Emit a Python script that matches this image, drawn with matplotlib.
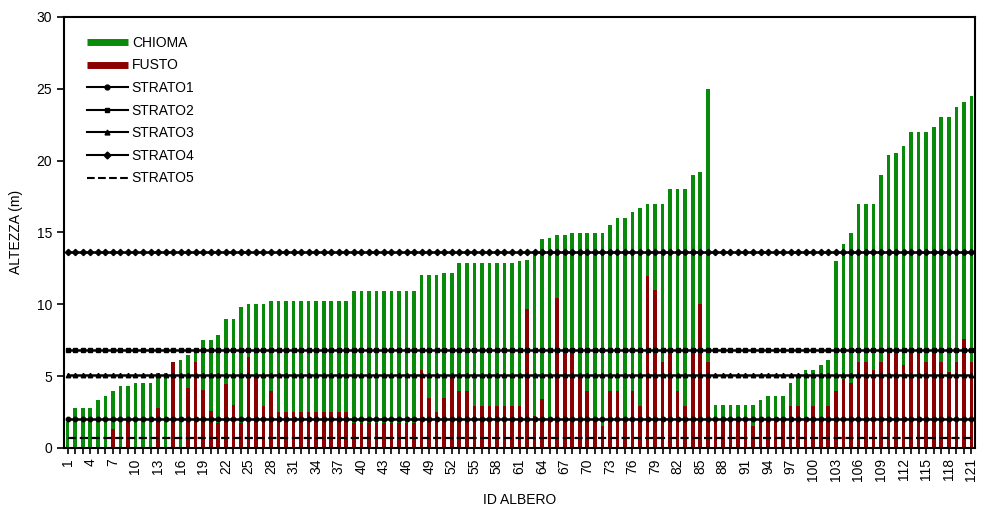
import matplotlib
matplotlib.use("Agg")
import matplotlib.pyplot as plt
import numpy as np
from matplotlib.lines import Line2D

plt.rcParams['font.family'] = ['Liberation Sans', 'DejaVu Sans']

# altezza totale degli alberi (m)
altezza = [1.8, 2.75, 2.75, 2.75, 3.35, 3.6, 3.95, 4.3, 4.3, 4.5,
           4.5, 4.5, 5.2, 5.2, 6.0, 6.1, 6.5, 6.85, 7.5, 7.5,
           7.85, 8.95, 8.95, 9.8, 10.0, 10.0, 10.0, 10.25, 10.25, 10.25,
           10.25, 10.25, 10.25, 10.25, 10.25, 10.25, 10.25, 10.25, 10.95, 10.95,
           10.95, 10.95, 10.95, 10.95, 10.95, 10.95, 10.95, 12.0, 12.0, 12.0,
           12.2, 12.2, 12.85, 12.85, 12.85, 12.85, 12.85, 12.85, 12.85, 12.85,
           13.0, 13.1, 13.6, 14.55, 14.6, 14.85, 14.85, 14.95, 14.95, 14.95,
           14.95, 14.95, 15.5, 16.0, 16.0, 16.45, 16.7, 17.0, 17.0, 17.0,
           18.0, 18.0, 18.0, 19.0, 19.2, 25.0, 3.0, 3.0, 3.0, 3.0,
           3.0, 3.0, 3.3, 3.6, 3.6, 3.6, 4.5, 5.1, 5.45, 5.45,
           5.8, 6.1, 13.0, 14.2, 14.95, 17.0, 17.0, 17.0, 19.0, 20.4,
           20.5, 21.0, 22.0, 22.0, 22.0, 22.3, 23.0, 23.0, 23.7, 24.05,
           24.5]

# altezza del fusto (m)
fusto = [0, 0, 0, 0, 0, 0, 1.35, 0, 2.0, 0,
         0, 0, 2.75, 0, 5.95, 0, 4.2, 6.0, 4.05, 2.6,
         1.75, 4.45, 3.0, 1.75, 6.35, 5.0, 2.95, 3.95, 2.5, 2.5,
         2.5, 2.5, 2.5, 2.5, 2.5, 2.5, 2.5, 2.5, 1.75, 1.75,
         1.75, 1.75, 1.75, 1.75, 1.75, 1.75, 1.75, 5.45, 3.5, 2.5,
         3.5, 5.0, 3.95, 3.95, 2.95, 2.95, 2.95, 2.95, 2.95, 2.95,
         2.95, 9.7, 2.2, 3.4, 2.0, 10.45, 6.6, 6.6, 5.0, 3.95,
         2.0, 1.5, 3.95, 3.95, 2.0, 3.95, 2.95, 11.95, 11.0, 6.0,
         6.7, 3.95, 2.95, 6.7, 10.0, 6.0, 2.0, 2.0, 2.0, 2.0,
         2.0, 1.5, 2.0, 2.0, 2.0, 2.0, 2.95, 2.95, 2.0, 2.95,
         2.0, 2.95, 3.95, 4.8, 4.5, 6.0, 6.0, 5.45, 6.0, 6.7,
         6.7, 5.8, 6.7, 6.7, 6.0, 6.7, 6.0, 5.25, 6.0, 7.55,
         6.0]

# limiti degli strati (m)
strati_nomi = ['STRATO1', 'STRATO2', 'STRATO3', 'STRATO4', 'STRATO5']
strati_valori = [2.0, 6.8, 5.1, 13.6, 0.72]
strati_marker = ['o', 's', '^', 'D', None]
strati_stile = ['-', '-', '-', '-', '--']

id_albero = np.arange(1, len(altezza) + 1)
chioma = np.array(altezza) - np.array(fusto)

verde = '#0a8a0a'
rosso = '#8b0000'

fig = plt.figure(figsize=(9.83, 5.09), dpi=100)
ax = fig.add_axes([0.065, 0.12, 0.927, 0.847])

# barre impilate: fusto sotto, chioma sopra
ax.bar(id_albero, fusto, width=0.48, color=rosso, linewidth=0, zorder=2)
ax.bar(id_albero, chioma, width=0.48, bottom=fusto, color=verde, linewidth=0, zorder=2)

# linee degli strati
for nome, val, mk, ls in zip(strati_nomi, strati_valori, strati_marker, strati_stile):
    yy = np.full(len(id_albero), val)
    if mk is None:
        ax.plot(id_albero, yy, color='black', ls=ls, lw=1.6, zorder=3)
    else:
        ax.plot(id_albero, yy, color='black', ls=ls, lw=1.8, marker=mk,
                markersize=3.2, zorder=3)

ax.set_xlim(0.5, 121.5)
ax.set_ylim(0, 30)
ax.set_yticks(np.arange(0, 31, 5))
ax.set_xticks(id_albero[::3])
ax.set_xticklabels([str(i) for i in id_albero[::3]], rotation=90)
ax.set_xticks(id_albero, minor=True)
ax.tick_params(axis='both', which='both', direction='out', color='black',
               labelsize=10)
ax.tick_params(axis='x', which='both', length=4, width=1.2)
ax.tick_params(axis='y', length=5, width=1.2)
for sp in ax.spines.values():
    sp.set_linewidth(1.5)

ax.set_xlabel('ID ALBERO', fontsize=10, labelpad=8)
ax.set_ylabel('ALTEZZA (m)', fontsize=10, labelpad=10)

# legenda
maniglie = [Line2D([0], [0], color=verde, lw=5, solid_capstyle='butt'),
            Line2D([0], [0], color=rosso, lw=5, solid_capstyle='butt')]
for mk, ls in zip(strati_marker, strati_stile):
    maniglie.append(Line2D([0], [0], color='black', lw=1.5, ls=ls,
                           marker=mk, markersize=3.5))
ax.legend(maniglie, ['CHIOMA', 'FUSTO'] + strati_nomi, loc='upper left',
          bbox_to_anchor=(0.012, 0.985), frameon=False, fontsize=10,
          handlelength=2.9, handletextpad=0.3, labelspacing=0.62)

fig.savefig('out.png', dpi=100)
